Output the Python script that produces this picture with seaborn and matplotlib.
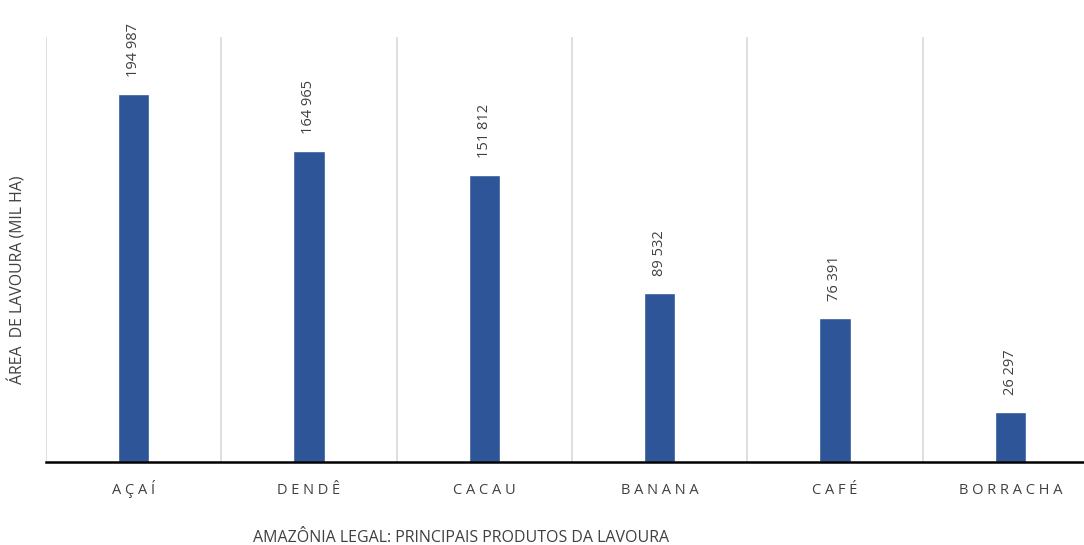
import matplotlib
matplotlib.use("Agg")
import matplotlib.pyplot as plt
import seaborn as sns
import pandas as pd

categories = ["AÇAÍ", "DENDÊ", "CACAU", "BANANA", "CAFÉ", "BORRACHA"]
values = [194987, 164965, 151812, 89532, 76391, 26297]

sns.set_theme(style="white")
plt.rcParams['font.family'] = ['Open Sans', 'DejaVu Sans']

df = pd.DataFrame({"cat": categories, "val": values})

W, H = 1084, 545
fig = plt.figure(figsize=(W / 100, H / 100), dpi=100)
left, right, top, bottom = 46, 1098, 37, 462
ax = fig.add_axes([left / W, (H - bottom) / H, (right - left) / W, (bottom - top) / H])

sns.barplot(data=df, x="cat", y="val", color="#2e5597", width=0.18, saturation=1, ax=ax)
ax.set_xlim(-0.5, len(categories) - 0.5)
ax.set_ylim(0, 225200)

for i in range(len(categories) + 1):
    ax.axvline(i - 0.5, color="#d9d9d9", lw=1.2, zorder=0)

for sp in ["top", "right", "left"]:
    ax.spines[sp].set_visible(False)
ax.spines["bottom"].set_color("#000000")
ax.spines["bottom"].set_linewidth(1.8)

ax.set_yticks([])
ax.set_xticks(range(len(categories)))
ax.set_xticklabels([" ".join(list(c)) for c in categories], fontsize=10.5, color="#404040")
ax.tick_params(axis="x", length=0, pad=23)
for t in ax.get_xticklabels():
    t.set_va("baseline")
ax.set_xlabel("")
ax.set_ylabel("")

for i, v in enumerate(values):
    lbl = f"{v:,}".replace(",", " ")
    ax.annotate(lbl, (i, v), xytext=(0, 17), textcoords="offset pixels",
                rotation=90, ha="center", va="bottom", fontsize=10.5, color="#404040")

fig.text(461 / W, 1 - 538 / H, "AMAZÔNIA LEGAL: PRINCIPAIS PRODUTOS DA LAVOURA",
         ha="center", va="center", fontsize=11.5, color="#404040")
fig.text(18 / W, 1 - 280 / H, "ÁREA  DE LAVOURA (MIL HA)", rotation=90,
         ha="center", va="center", fontsize=11.4, color="#404040")

fig.savefig("out.png", dpi=100)
